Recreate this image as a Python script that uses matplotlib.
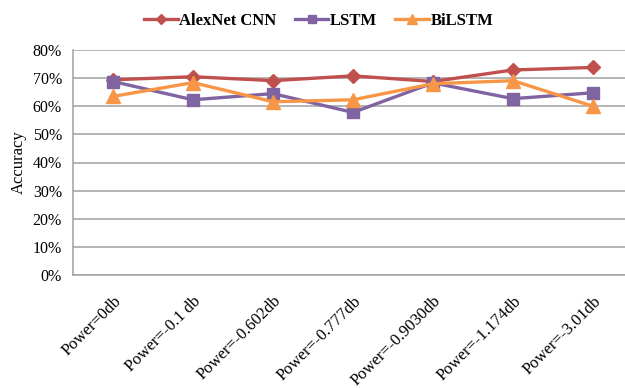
import matplotlib
matplotlib.use("Agg")
import matplotlib.pyplot as plt
from matplotlib.ticker import FuncFormatter

categories = ["Power=0db", "Power=-0.1 db", "Power=-0.602db", "Power=-0.777db",
              "Power=-0.9030db", "Power=-1.174db", "Power=-3.01db"]
alexnet = [69.4, 70.5, 69.1, 70.8, 68.8, 72.9, 73.8]
lstm = [68.8, 62.3, 64.5, 57.8, 68.3, 62.7, 64.8]
bilstm = [63.5, 68.4, 61.6, 62.3, 68.0, 69.1, 60.0]
yticks = [0, 10, 20, 30, 40, 50, 60, 70, 80]

plt.rcParams['font.family'] = ['Liberation Serif', 'DejaVu Serif']

fig = plt.figure(figsize=(6.25, 3.88), dpi=100)
# plot area spans past the right edge of the canvas
ax = fig.add_axes([73 / 625, 1 - 275 / 388, 560 / 625, 225 / 388])

x = list(range(len(categories)))
ax.plot(x, alexnet, color="#C0504D", lw=2.4, marker="D", ms=7.5, label="AlexNet CNN")
ax.plot(x, lstm, color="#8064A2", lw=2.4, marker="s", ms=9, label="LSTM")
ax.plot(x, bilstm, color="#F79646", lw=2.4, marker="^", ms=10, label="BiLSTM")

ax.set_xlim(-0.5, len(categories) - 0.5)
ax.set_ylim(0, 80)
ax.set_yticks(yticks)
ax.yaxis.set_major_formatter(FuncFormatter(lambda v, p: f"{v:.0f}%"))
ax.grid(axis="y", color="#A0A0A0", lw=1.1)
ax.set_axisbelow(True)
for s in ["top", "right"]:
    ax.spines[s].set_visible(False)
for s in ["left", "bottom"]:
    ax.spines[s].set_color("#A0A0A0")
    ax.spines[s].set_linewidth(1.1)
ax.tick_params(axis="y", length=0, labelsize=11.5, pad=8)
ax.set_xticks(x)
ax.set_xticklabels(categories, rotation=45, ha="right", rotation_mode="anchor")
ax.tick_params(axis="x", length=0, labelsize=12, pad=13)
ax.set_ylabel("Accuracy", fontsize=12, labelpad=4)

fig.legend(loc="upper center", bbox_to_anchor=(0.51, 1.005), ncol=3, frameon=False,
           prop={"weight": "bold", "size": 12}, handlelength=2.0, markerscale=0.7,
           columnspacing=1.1, handletextpad=0.1)

fig.savefig("out.png", dpi=100)
